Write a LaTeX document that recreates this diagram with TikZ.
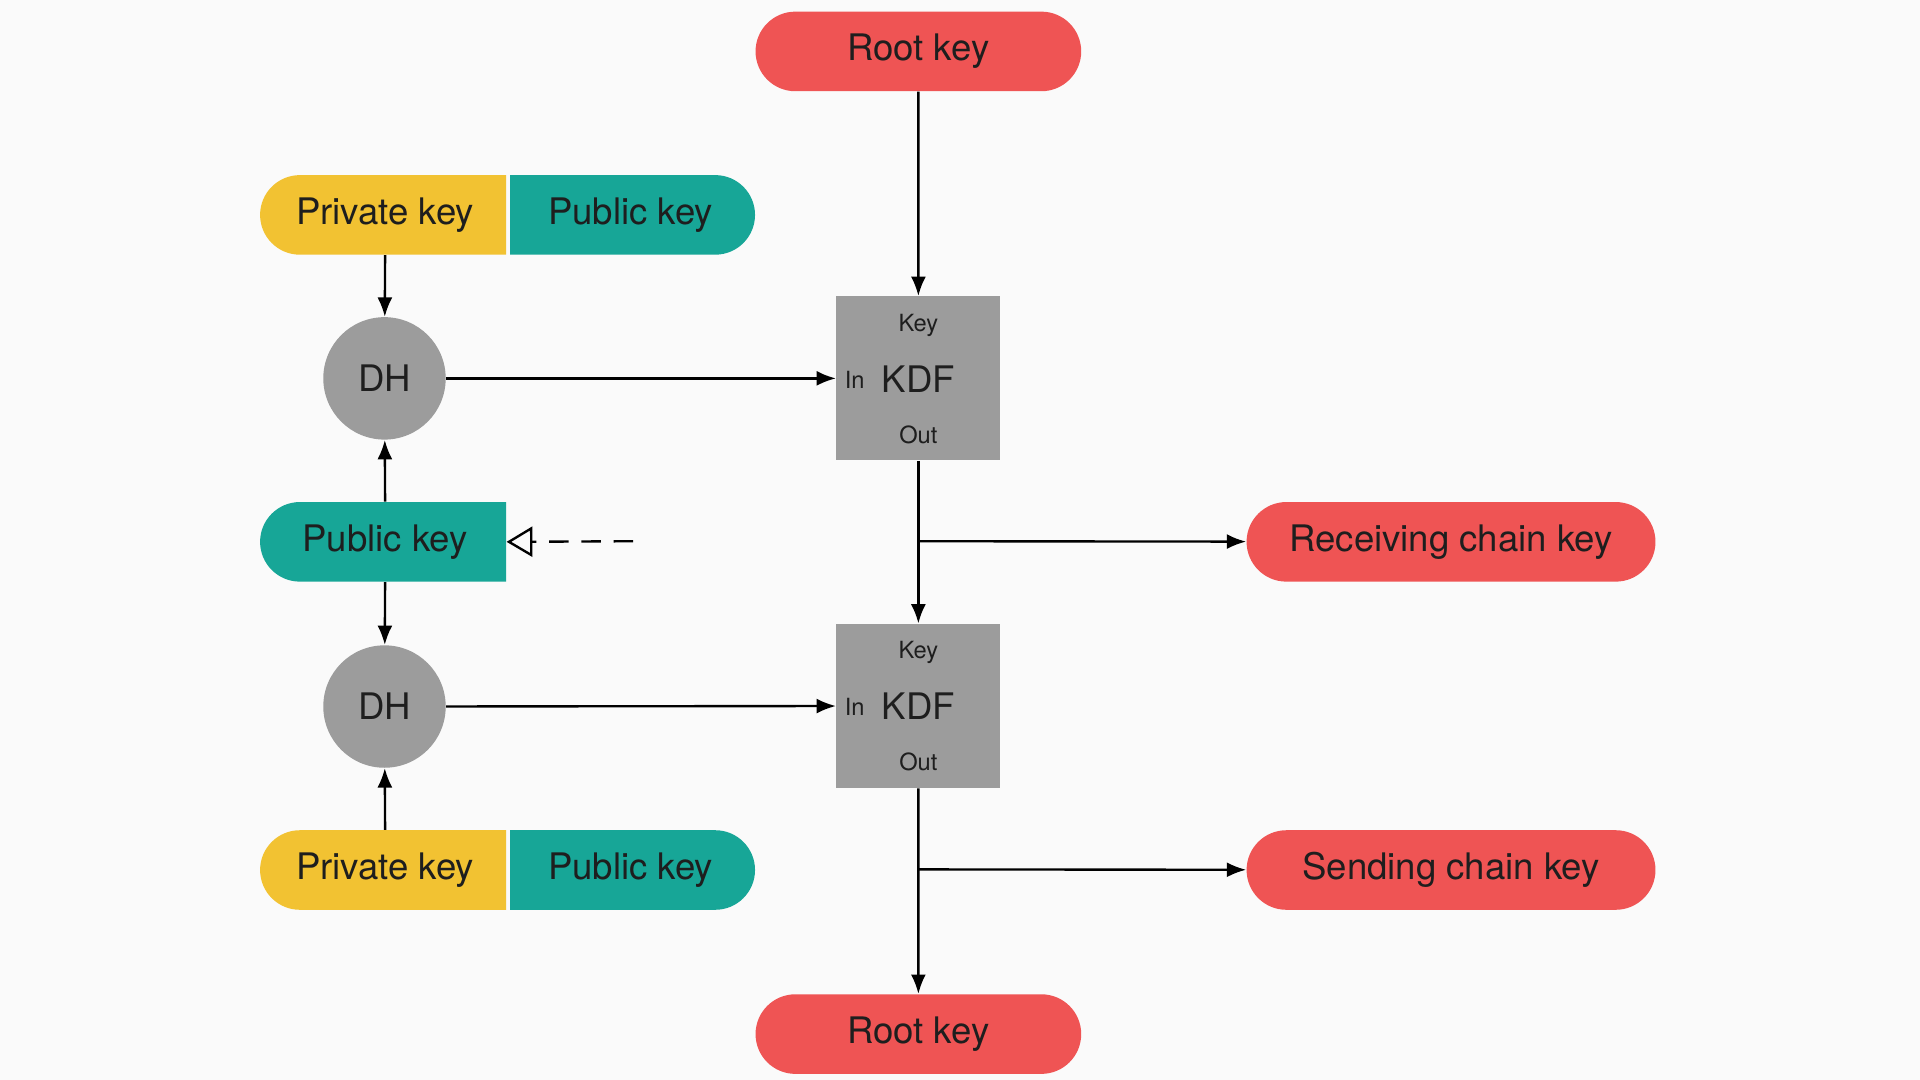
\documentclass[tikz,border=0pt]{standalone}
\usepackage{fontspec}
\setmainfont{TeX Gyre Heros}
\usetikzlibrary{shapes.misc,arrows.meta}
\definecolor{rk}{HTML}{EF5454}
\definecolor{yk}{HTML}{F2C232}
\definecolor{tk}{HTML}{17A697}
\definecolor{gk}{HTML}{9C9C9C}
\definecolor{tx}{HTML}{1E1E1E}
\begin{document}
\begin{tikzpicture}[x=0.02cm,y=-0.02cm,
  lbl/.style={text=tx,font=\fontsize{17}{20}\selectfont},
  pill/.style={rounded rectangle,fill=rk,minimum height=1.3cm,lbl,inner sep=0pt},
  lhalf/.style={rounded rectangle,rounded rectangle right arc=none,minimum width=4.02cm,minimum height=1.3cm,lbl,inner sep=0pt},
  rhalf/.style={rounded rectangle,rounded rectangle left arc=none,minimum width=4.0cm,minimum height=1.3cm,lbl,inner sep=0pt,fill=tk},
  dh/.style={circle,fill=gk,minimum size=2cm,lbl,inner sep=0pt},
  kdf/.style={rectangle,fill=gk,minimum size=2.68cm,inner sep=0pt},
  sm/.style={text=tx,font=\fontsize{11}{13}\selectfont},
  arr/.style={line width=1.1pt,-{Latex[length=9pt,width=7pt]}}]
\fill[white!96!gray] (0,0) rectangle (1568,882);
\node[pill,minimum width=5.32cm] (rk1) at (750,42) {Root key};
\node[lhalf,fill=yk] (pv1) at (314.5,175.5) {Private key};
\node[rhalf] (pb1) at (515,175.5) {Public key};
\node[dh] (dh1) at (314,309) {DH};
\node[kdf] (k1) at (750,309) {};
\node[sm] at (750,266) {Key};
\node[sm] at (698,310) {In};
\node[sm] at (750,355) {Out};
\node[lbl] at (750,310) {KDF};
\node[lhalf,fill=tk] (pbm) at (314.5,442.5) {Public key};
\coordinate (dsh) at (517,442);
\node[dh] (dh2) at (314,577) {DH};
\node[kdf] (k2) at (750,576.5) {};
\node[sm] at (750,533) {Key};
\node[sm] at (698,577) {In};
\node[sm] at (750,622) {Out};
\node[lbl] at (750,577) {KDF};
\node[lhalf,fill=yk] (pv2) at (314.5,710.5) {Private key};
\node[rhalf] (pb2) at (515,710.5) {Public key};
\node[pill,minimum width=6.68cm] (rc) at (1185,442.5) {Receiving chain key};
\node[pill,minimum width=6.68cm] (sc) at (1185,710.5) {Sending chain key};
\node[pill,minimum width=5.32cm] (rk2) at (750,844.5) {Root key};
\coordinate (b1) at (750,442);
\coordinate (b2) at (750,710);
\draw[arr] (rk1) -- (k1);
\draw[arr] (pv1.south) -- (dh1);
\draw[arr] (pbm.north) -- (dh1);
\draw[arr] (pbm.south) -- (dh2);
\draw[arr] (pv2.north) -- (dh2);
\draw[arr] (dh1) -- (k1);
\draw[arr] (dh2) -- (k2);
\draw[arr] (k1) -- (k2);
\draw[arr] (k2) -- (rk2);
\draw[arr] (b1) -- (rc);
\draw[arr] (b2) -- (sc);
\draw[line width=1.1pt,dash pattern=on 9pt off 6pt,-{Triangle[open,length=12pt,width=14pt]}] (dsh) -- (pbm.east);
\end{tikzpicture}
\end{document}
